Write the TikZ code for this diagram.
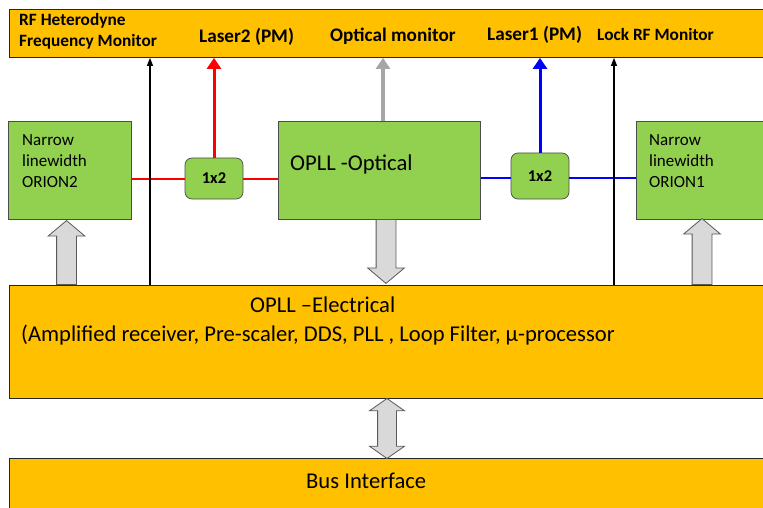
\documentclass[tikz,border=0pt]{standalone}
\usepackage{fontspec}
\setmainfont{Carlito}
\usetikzlibrary{positioning, arrows.meta, shapes.arrows}
\definecolor{barorange}{HTML}{FFC000}
\definecolor{boxgreen}{HTML}{92D050}
\definecolor{blockgrey}{HTML}{D9D9D9}
\definecolor{tapgrey}{HTML}{A6A6A6}
\tikzset{%
  % orange bars spanning the whole width
  bar/.style={rectangle, draw=black!85, fill=barorange, line width=0.9pt, anchor=north west, inner sep=0pt},
  % green function blocks
  greenbox/.style={rectangle, draw=black!70, fill=boxgreen, line width=0.7pt, anchor=north west, inner sep=0pt},
  splitter/.style={rectangle, rounded corners=7pt, draw=black!70, fill=boxgreen, line width=0.7pt, font=\bfseries\fontsize{16.5}{18}\selectfont},
  % plain text labels
  toplabel/.style={font=\bfseries\fontsize{19.2}{22}\selectfont, inner sep=0pt, anchor=west},
  monlabel/.style={font=\bfseries\fontsize{17.3}{20}\selectfont, inner sep=0pt, anchor=west},
  boxlabel/.style={font=\fontsize{17}{21}\selectfont, inner sep=0pt, anchor=north west, align=left},
  biglabel/.style={font=\fontsize{22.6}{26}\selectfont, inner sep=0pt, anchor=west},
  % fibre and monitor taps
  redline/.style={red, line width=2pt},
  blueline/.style={blue, line width=2pt},
  redarrow/.style={red, line width=3pt, -{Triangle[width=14pt, length=11pt]}},
  bluearrow/.style={blue, line width=3pt, -{Triangle[width=14pt, length=11pt]}},
  greyarrow/.style={tapgrey, line width=3.5pt, -{Triangle[width=14pt, length=11pt]}},
  monarrow/.style={black, line width=1.2pt, -{Triangle[width=6pt, length=8pt]}},
  % hollow block arrows between layers
  blockarrow/.style={single arrow, draw=black!65, fill=blockgrey, line width=0.8pt, inner sep=9.5pt,
    single arrow head extend=8.5pt, single arrow tip angle=100, anchor=tail},
  busarrow/.style={double arrow, draw=black!65, fill=blockgrey, line width=0.8pt, inner sep=9pt,
    double arrow head extend=8pt, double arrow tip angle=110},
}
\begin{document}
\begin{tikzpicture}[x=1pt, y=-1pt]
  \clip (0,0) rectangle (763,508);

  % bars
  \node[bar, minimum width=770pt, minimum height=48pt] (top) at (9,9) {};
  \node[bar, minimum width=770pt, minimum height=113pt] (elec) at (9,285) {};
  \node[bar, minimum width=770pt, minimum height=60pt] (bus) at (9,458) {};

  % outputs along the top
  \node[monlabel] (hetlbl) at (19,21) {RF Heterodyne};
  \node[monlabel] (freqlbl) at (19,42) {Frequency Monitor};
  \node[toplabel] (l2lbl) at (199,37) {Laser2 (PM)};
  \node[toplabel] (optlbl) at (330,36) {Optical monitor};
  \node[toplabel] (l1lbl) at (487,35) {Laser1 (PM)};
  \node[monlabel] (locklbl) at (597,34) {Lock RF Monitor};

  % optical blocks
  \node[greenbox, minimum width=123pt, minimum height=98pt] (orion2) at (8,121) {};
  \node[boxlabel] (orion2txt) at (22,134.5) {Narrow\\linewidth\\ORION2};
  \node[greenbox, minimum width=202pt, minimum height=98pt] (optical) at (278,121) {};
  \node[biglabel] (opticaltxt) at (290,164) {OPLL -Optical};
  \node[greenbox, minimum width=140pt, minimum height=98pt] (orion1) at (636,121) {};
  \node[boxlabel] (orion1txt) at (649,134.5) {Narrow\\linewidth\\ORION1};
  \node[splitter, minimum width=58pt, minimum height=41pt] (split2) at (214,178.5) {1x2};
  \node[splitter, minimum width=58pt, minimum height=46pt] (split1) at (540,176) {1x2};

  % electrical and bus text
  \node[biglabel] (electxt) at (250,305) {OPLL –Electrical};
  \node[biglabel] (elecsub) at (21,335) {(Amplified receiver, Pre-scaler, DDS, PLL , Loop Filter, µ-processor};
  \node[biglabel] (bustxt) at (306,481) {Bus Interface};

  % fibre paths
  \draw[redline] (orion2.east |- split2) -- (split2.west);
  \draw[redline] (split2.east) -- (optical.west |- split2);
  \draw[blueline] (optical.east |- 0,178) -- (split1.west |- 0,178);
  \draw[blueline] (split1.east |- 0,178) -- (orion1.west |- 0,178);

  % taps to the top bar
  \coordinate (hettap) at (150,0);
  \coordinate (locktap) at (614,0);
  \coordinate (opttap) at (383,0);
  \draw[monarrow] (elec.north -| hettap) -- (hettap |- top.south);
  \draw[monarrow] (elec.north -| locktap) -- (locktap |- top.south);
  \draw[redarrow] (split2.north) -- (split2.north |- top.south);
  \draw[bluearrow] (split1.north) -- (split1.north |- top.south);
  \draw[greyarrow] (optical.north -| opttap) -- (opttap |- top.south);

  % block arrows
  \node[blockarrow, minimum height=64pt, shape border rotate=90] (up2) at (66.5,285) {};
  \node[blockarrow, minimum height=66pt, shape border rotate=90] (up1) at (702,285) {};
  \node[blockarrow, minimum height=64pt, shape border rotate=270] (down) at (386,219) {};
  \node[busarrow, minimum height=60pt, shape border rotate=90] (busarr) at (387,428.5) {};
\end{tikzpicture}
\end{document}
